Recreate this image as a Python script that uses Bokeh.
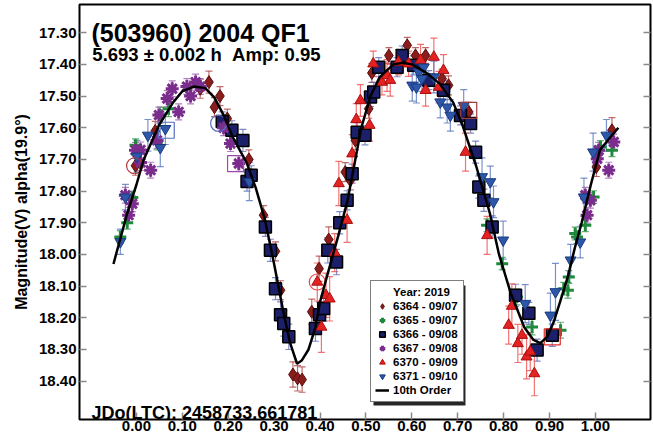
from bokeh.plotting import figure
from bokeh.models import (ColumnDataSource, Range1d, LinearAxis, FixedTicker,
                          NumeralTickFormatter, Whisker, TeeHead, Legend,
                          LegendItem, Label, BoxAnnotation)
from bokeh.embed import file_html
from bokeh.resources import INLINE

FONT = "Liberation Sans"

# ---- light-curve data (phase, magnitude, error) per session ----
ph_6364 = [-0.002, 0.041, 0.139, 0.158, 0.170, 0.182, 0.198, 0.245, 0.277, 0.303,
           0.314, 0.341, 0.351, 0.361, 0.382, 0.398, 0.419, 0.455, 0.466, 0.477,
           0.506, 0.513, 0.550, 0.590, 0.608, 0.630, 0.666, 0.680, 0.724, 1.002, 1.036]
mag_6364 = [17.720, 17.610, 17.477, 17.456, 17.535, 17.500, 17.571, 17.700, 17.876, 17.990,
            18.113, 18.379, 18.391, 18.395, 18.181, 18.045, 17.953, 17.740, 17.766, 17.640,
            17.540, 17.427, 17.372, 17.340, 17.372, 17.372, 17.445, 17.466, 17.550, 17.724, 17.608]
err_6364 = [0.03, 0.03, 0.03, 0.035, 0.03, 0.03, 0.03, 0.03, 0.03, 0.03,
            0.03, 0.04, 0.04, 0.04, 0.04, 0.04, 0.04, 0.03, 0.03, 0.03,
            0.03, 0.03, 0.025, 0.025, 0.025, 0.025, 0.03, 0.03, 0.03, 0.03, 0.04]

ph_6365 = [-0.035, -0.020, -0.009, -0.002, 0.045, 0.052, 0.070, 0.764, 0.797, 0.829,
           0.862, 0.924, 0.931, 0.940, 0.942, 0.956, 0.960, 0.978, 0.996, 1.011, 1.036]
mag_6365 = [17.945, 17.900, 17.820, 17.655, 17.645, 17.560, 17.540, 17.908, 18.029, 18.134,
            18.229, 18.239, 18.108, 18.113, 18.071, 17.934, 17.945, 17.908, 17.819, 17.661, 17.671]
err_6365 = [0.02, 0.02, 0.02, 0.02, 0.025, 0.025, 0.025, 0.02, 0.02, 0.025,
            0.025, 0.025, 0.02, 0.025, 0.02, 0.02, 0.02, 0.02, 0.02, 0.02, 0.02]

ph_6366 = [0.187, 0.208, 0.232, 0.241, 0.250, 0.281, 0.292, 0.303, 0.314, 0.321,
           0.332, 0.390, 0.399, 0.408, 0.417, 0.436, 0.443, 0.459, 0.470, 0.481,
           0.498, 0.510, 0.517, 0.528, 0.568, 0.579, 0.604, 0.637, 0.669, 0.706,
           0.728, 0.739, 0.746, 0.757, 0.775, 0.826, 0.855, 0.873, 0.906]
mag_6366 = [17.580, 17.608, 17.640, 17.770, 17.750, 17.913, 17.987, 18.108, 18.190, 18.218,
            18.260, 18.234, 18.190, 18.171, 17.987, 18.024, 17.900, 17.829, 17.745, 17.614,
            17.624, 17.503, 17.487, 17.409, 17.409, 17.372, 17.403, 17.450, 17.482, 17.561,
            17.587, 17.677, 17.787, 17.829, 17.913, 18.129, 18.186, 18.302, 18.255]
err_6366 = [0.03, 0.03, 0.035, 0.03, 0.03, 0.03, 0.035, 0.035, 0.04, 0.04,
            0.04, 0.04, 0.04, 0.04, 0.04, 0.04, 0.035, 0.03, 0.03, 0.03,
            0.03, 0.03, 0.03, 0.03, 0.03, 0.03, 0.03, 0.03, 0.03, 0.03,
            0.03, 0.035, 0.035, 0.035, 0.035, 0.035, 0.035, 0.035, 0.035]

ph_6367 = [-0.024, -0.017, -0.009, -0.002, 0.009, 0.009, 0.031, 0.045, 0.049, 0.067,
           0.078, 0.092, 0.110, 0.118, 0.129, 0.139, 0.190, 0.205, 0.223, 0.978,
           0.982, 0.989, 1.004, 1.007, 1.029, 1.040]
mag_6367 = [17.813, 17.876, 17.840, 17.671, 17.670, 17.710, 17.734, 17.640, 17.560, 17.508,
            17.477, 17.550, 17.470, 17.500, 17.456, 17.470, 17.600, 17.650, 17.713, 17.813,
            17.876, 17.829, 17.698, 17.671, 17.734, 17.645]
err_6367 = [0.025] * 26

ph_6370 = [0.394, 0.403, 0.413, 0.421, 0.432, 0.441, 0.459, 0.470, 0.479, 0.488,
           0.508, 0.516, 0.535, 0.546, 0.553, 0.571, 0.593, 0.619, 0.630, 0.648,
           0.659, 0.669, 0.717, 0.764, 0.811, 0.818, 0.831, 0.840, 0.850, 0.858, 0.867]
mag_6370 = [18.087, 18.229, 18.129, 18.140, 17.994, 17.776, 17.892, 17.682, 17.574, 17.514,
            17.592, 17.398, 17.456, 17.435, 17.450, 17.393, 17.398, 17.387, 17.482, 17.377,
            17.472, 17.419, 17.677, 17.940, 18.223, 18.163, 18.281, 18.255, 18.323, 18.307, 18.376]
err_6370 = [0.06, 0.08, 0.07, 0.07, 0.06, 0.07, 0.07, 0.06, 0.05, 0.05,
            0.05, 0.04, 0.04, 0.05, 0.05, 0.04, 0.04, 0.05, 0.05, 0.06,
            0.05, 0.05, 0.06, 0.06, 0.06, 0.07, 0.06, 0.06, 0.07, 0.06, 0.07]

ph_6371 = [-0.035, -0.024, 0.001, 0.025, 0.052, 0.063, 0.246, 0.601, 0.610, 0.615,
           0.622, 0.626, 0.648, 0.662, 0.677, 0.684, 0.713, 0.753, 0.771, 0.778,
           0.799, 0.847, 0.902, 0.913, 0.946, 0.967, 0.975, 0.995, 1.024]
mag_6371 = [17.960, 17.819, 17.690, 17.624, 17.663, 17.603, 17.770, 17.466, 17.472, 17.424,
            17.445, 17.409, 17.440, 17.519, 17.535, 17.561, 17.530, 17.755, 17.771, 17.834,
            17.955, 18.155, 18.192, 18.118, 18.018, 17.961, 17.819, 17.677, 17.624]
err_6371 = [0.04, 0.04, 0.05, 0.05, 0.06, 0.05, 0.06, 0.05, 0.05, 0.04,
            0.04, 0.04, 0.05, 0.05, 0.05, 0.05, 0.05, 0.06, 0.05, 0.05,
            0.06, 0.06, 0.07, 0.09, 0.05, 0.05, 0.06, 0.06, 0.05]

# flagged observations (ringed)
flag_ph = [-0.004, 0.394, 0.179, 0.065, 0.216, 0.906, 0.724]
flag_mag = [17.720, 18.087, 17.586, 17.608, 17.713, 18.260, 17.545]
flag_marker = ["circle", "circle", "circle", "square", "square", "square", "square"]
flag_color = ["#b03a3a", "#f04848", "#5a6ec0", "#5a6ec0", "#9a4aa8", "#e03030", "#a03a3a"]

# 10th order Fourier fit, sampled
curve_ph = [-0.05, -0.02, 0.00, 0.016, 0.05, 0.08, 0.10, 0.125, 0.15, 0.17,
            0.19, 0.21, 0.24, 0.26, 0.28, 0.30, 0.32, 0.335, 0.35, 0.36,
            0.375, 0.39, 0.40, 0.415, 0.44, 0.46, 0.49, 0.51, 0.53, 0.56,
            0.58, 0.60, 0.63, 0.66, 0.69, 0.71, 0.74, 0.77, 0.79, 0.815,
            0.845, 0.865, 0.88, 0.895, 0.91, 0.925, 0.94, 0.955, 0.97, 0.99,
            1.01, 1.03, 1.05]
curve_mag = [18.03, 17.87, 17.78, 17.70, 17.59, 17.52, 17.485, 17.47, 17.475, 17.505,
             17.56, 17.63, 17.71, 17.79, 17.89, 18.03, 18.18, 18.28, 18.345, 18.335,
             18.30, 18.23, 18.15, 18.07, 17.94, 17.83, 17.60, 17.50, 17.44, 17.40,
             17.395, 17.40, 17.425, 17.46, 17.52, 17.59, 17.72, 17.87, 18.00, 18.12,
             18.23, 18.27, 18.28, 18.26, 18.21, 18.14, 18.07, 17.98, 17.90, 17.78,
             17.67, 17.635, 17.60]

mag_ticks = [17.3, 17.4, 17.5, 17.6, 17.7, 17.8, 17.9, 18.0, 18.1, 18.2, 18.3, 18.4]
phase_ticks = [0.0, 0.1, 0.2, 0.3, 0.4, 0.5, 0.6, 0.7, 0.8, 0.9, 1.0]

p = figure(width=653, height=437, output_backend="svg", toolbar_location=None,
           x_range=Range1d(-0.124, 1.12), y_range=Range1d(18.521, 17.211),
           min_border_left=79, min_border_right=3, min_border_top=4,
           min_border_bottom=18, x_axis_location=None, y_axis_location=None)
p.background_fill_color = "white"
p.border_fill_color = "white"
p.outline_line_color = "black"
p.outline_line_width = 2
p.xgrid.visible = False
p.ygrid.visible = False


def style_axis(ax, show_labels):
    ax.axis_line_color = None
    ax.major_tick_in = 7
    ax.major_tick_out = 0
    ax.major_tick_line_color = "#8a8a8a"
    ax.major_tick_line_width = 1.5
    ax.minor_tick_line_color = None
    ax.major_label_text_font = FONT
    ax.major_label_text_font_style = "bold"
    ax.major_label_text_color = "black"
    if show_labels:
        ax.major_label_text_font_size = "15px"
    else:
        ax.major_label_text_font_size = "1px"
        ax.major_label_text_alpha = 0
        ax.major_label_standoff = 0


left = LinearAxis(ticker=FixedTicker(ticks=mag_ticks),
                  formatter=NumeralTickFormatter(format="0.00"),
                  axis_label="Magnitude(V) alpha(19.9°)")
style_axis(left, True)
left.major_label_standoff = 3
left.axis_label_text_font = FONT
left.axis_label_text_font_style = "bold"
left.axis_label_text_font_size = "16px"
left.axis_label_text_color = "black"
left.axis_label_standoff = 6
p.add_layout(left, "left")

right = LinearAxis(ticker=FixedTicker(ticks=mag_ticks))
style_axis(right, False)
p.add_layout(right, "right")

bottom = LinearAxis(ticker=FixedTicker(ticks=phase_ticks),
                    formatter=NumeralTickFormatter(format="0.00"))
style_axis(bottom, True)
bottom.major_label_standoff = 1
p.add_layout(bottom, "below")

# ---- session series ----
series = [
    ("6364 - 09/07", ph_6364, mag_6364, err_6364, "diamond", 13, "#8b1c1c", "#5a1010", 1.0, "#b04848"),
    ("6365 - 09/07", ph_6365, mag_6365, err_6365, "cross", 12, "#1f8a3c", "#1f8a3c", 3.0, "#3c9c58"),
    ("6366 - 09/08", ph_6366, mag_6366, err_6366, "square", 12, "#1c1f6a", "#000000", 1.5, "#6070b8"),
    ("6367 - 09/08", ph_6367, mag_6367, err_6367, "asterisk", 13, "#7b2d8e", "#7b2d8e", 3.0, "#a060b0"),
    ("6370 - 09/09", ph_6370, mag_6370, err_6370, "triangle", 11, "#e52222", "#a81010", 1.0, "#f05050"),
    ("6371 - 09/10", ph_6371, mag_6371, err_6371, "inverted_triangle", 11, "#2d57a8", "#1a3a80", 1.0, "#5a78c0"),
]

items = []
# header row of the legend (no glyph drawn)
hdr = p.scatter(x=[], y=[], marker="circle", size=1, fill_alpha=0, line_alpha=0)
items.append(LegendItem(label="Year: 2019", renderers=[hdr]))

for label, ph, mag, err, marker, size, fill, line, lw, barc in series:
    src = ColumnDataSource(dict(x=ph, y=mag,
                                lo=[m - e for m, e in zip(mag, err)],
                                hi=[m + e for m, e in zip(mag, err)]))
    wk = Whisker(source=src, base="x", lower="lo", upper="hi", dimension="height",
                 line_color=barc, line_alpha=0.8, line_width=1.2,
                 upper_head=TeeHead(size=7, line_color=barc, line_alpha=0.8, line_width=1.2),
                 lower_head=TeeHead(size=7, line_color=barc, line_alpha=0.8, line_width=1.2))
    p.add_layout(wk)
    r = p.scatter("x", "y", source=src, marker=marker, size=size,
                  fill_color=fill, line_color=line, line_width=lw)
    items.append(LegendItem(label=label, renderers=[r]))

p.scatter(flag_ph, flag_mag, marker=flag_marker, size=16, fill_alpha=0,
          line_color=flag_color, line_width=1.2)

fit = p.line(curve_ph, curve_mag, line_color="black", line_width=2.5)
items.append(LegendItem(label="10th Order", renderers=[fit]))

# ---- texts ----
p.add_layout(Label(x=-0.098, y=17.302, text="(503960) 2004 QF1", text_font=FONT,
                   text_font_style="bold", text_font_size="25px", text_color="black",
                   text_baseline="alphabetic"))
p.add_layout(Label(x=-0.096, y=17.368, text="5.693 ± 0.002 h\u00a0\u00a0Amp: 0.95", text_font=FONT,
                   text_font_style="bold", text_font_size="18.5px", text_color="black",
                   text_baseline="alphabetic"))
p.add_layout(Label(x=-0.098, y=18.50, text="JDo(LTC): 2458733.661781", text_font=FONT,
                   text_font_style="bold", text_font_size="18px", text_color="black",
                   text_baseline="alphabetic"))

# ---- legend with drop shadow (legend box: 92 x 120 px) ----
p.add_layout(BoxAnnotation(left=0.5165, right=0.7169, top=18.098, bottom=18.4768,
                           fill_color="black", fill_alpha=0.85, line_color=None,
                           level="overlay"))
legend = Legend(items=items, location=(291, 17), glyph_width=14, glyph_height=14,
                label_height=14, label_width=66, spacing=0, padding=4, margin=0,
                label_standoff=4, label_text_font=FONT, label_text_font_style="bold",
                label_text_font_size="11.5px", label_text_color="black",
                border_line_color="black", border_line_width=1.5,
                background_fill_color="white", background_fill_alpha=1.0)
p.add_layout(legend)

open("out.html", "w").write(file_html(p, INLINE))
